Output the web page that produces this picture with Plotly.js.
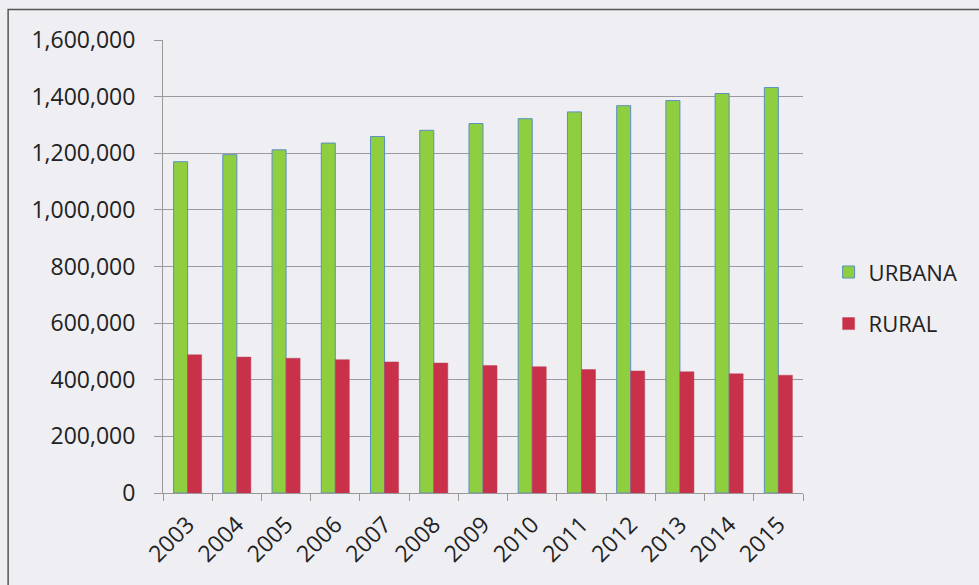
<!DOCTYPE html>
<html>
<head>
<meta charset="utf-8">
<script src="https://cdn.plot.ly/plotly-3.0.1.min.js"></script>
<style>html,body{margin:0;padding:0;background:#eeeef3;}#chart{width:979px;height:585px;}</style>
</head>
<body>
<div id="chart"></div>
<script>
const years = ["2003","2004","2005","2006","2007","2008","2009","2010","2011","2012","2013","2014","2015"];
const urbana = [1170000,1195000,1212000,1236000,1259000,1281000,1305000,1322000,1346000,1368000,1386000,1411000,1432000];
const rural = [488000,480000,476000,471000,463000,459000,450000,446000,436000,431000,428000,421000,416000];
const yTicks = [0,200000,400000,600000,800000,1000000,1200000,1400000,1600000];

const font = {family: "Open Sans, DejaVu Sans, sans-serif", size: 23, color: "#222"};

const data = [
  {type: "bar", name: "URBANA", x: years, y: urbana, legendgroup: "u",
   marker: {color: "#8fce3e", line: {color: "#5b8fc4", width: 1}}},
  {type: "bar", name: "RURAL", x: years, y: rural, legendgroup: "r",
   marker: {color: "#c9304a", line: {color: "#b8475a", width: 0.5}}}
];

const layout = {
  width: 979, height: 585,
  margin: {l: 163, r: 176, t: 40, b: 92},
  paper_bgcolor: "#eeeef3",
  plot_bgcolor: "#eeeef3",
  barmode: "group",
  bargap: 0.43,
  bargroupgap: 0,
  font: font,
  showlegend: true,
  legend: {x: 1.04, y: 0.43, xanchor: "left", yanchor: "middle",
    bgcolor: "rgba(0,0,0,0)", font: {family: font.family, size: 22, color: "#222"},
    traceorder: "grouped", tracegroupgap: 20, itemwidth: 30},
  xaxis: {
    type: "category",
    tickangle: -45,
    ticks: "outside", ticklen: 7, tickcolor: "#999", tickson: "boundaries",
    showline: true, linecolor: "#999", linewidth: 1,
    showgrid: false,
    tickfont: font,
    ticklabelstandoff: 8,
    fixedrange: true
  },
  yaxis: {
    range: [0, 1600000],
    tickvals: yTicks,
    tickformat: ",",
    ticks: "outside", ticklen: 8, tickcolor: "#999",
    showline: true, linecolor: "#999", linewidth: 1,
    showgrid: true, gridcolor: "#9a9aa0", gridwidth: 1,
    zeroline: false,
    tickfont: font,
    ticklabelstandoff: 14,
    fixedrange: true
  },
  shapes: [
    {type: "rect", xref: "paper", yref: "paper",
     x0: -0.242, x1: 1.3, y0: -0.3, y1: 1.0674,
     line: {color: "#555", width: 1.5}, fillcolor: "rgba(0,0,0,0)", layer: "below"}
  ]
};

Plotly.newPlot("chart", data, layout, {displayModeBar: false, staticPlot: true});
</script>
</body>
</html>
